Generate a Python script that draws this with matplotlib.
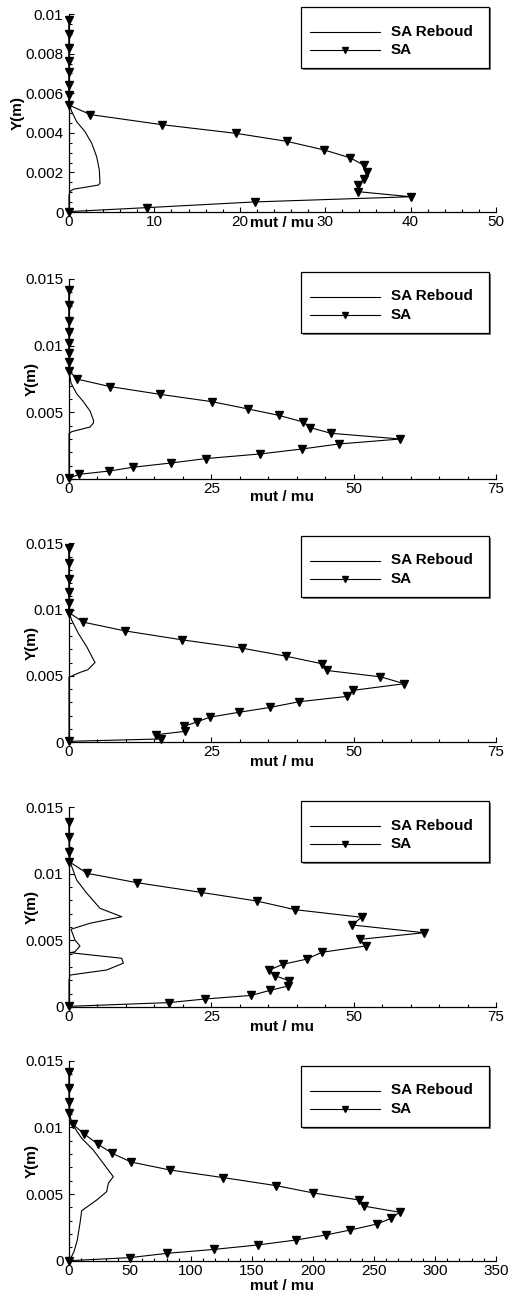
import matplotlib
matplotlib.use("Agg")
import matplotlib.pyplot as plt
from matplotlib.ticker import MultipleLocator, FixedLocator, FixedFormatter
from matplotlib.lines import Line2D
from matplotlib.patches import Rectangle

plt.rcParams['font.family'] = ['Liberation Sans', 'DejaVu Sans']

# ---------------- data ----------------
series_names = ["SA Reboud", "SA"]
x_label = "mut / mu"
y_label = "Y(m)"

# Panel 1
p1_sa_x = [0, 0, 0, 0, 0, 0, 0, 0, 2.5, 10.9, 19.6, 25.5, 29.9, 32.9, 34.5, 34.9,
           34.6, 33.8, 33.8, 40.0, 21.8, 9.1, 0]
p1_sa_y = [0.00968, 0.00899, 0.00828, 0.00764, 0.00705, 0.00643, 0.00589, 0.00540,
           0.00492, 0.00441, 0.00397, 0.00357, 0.00313, 0.00274, 0.00237, 0.00204,
           0.00168, 0.00138, 0.00103, 0.00077, 0.00051, 0.00022, 0.00002]
p1_rb_x = [0, 0, 0.1, 0.32, 0.9, 1.87, 2.66, 3.24, 3.55, 3.63, 3.43, 0.5, 0.12, 0, 0]
p1_rb_y = [0.0097, 0.0056, 0.00535, 0.00507, 0.00456, 0.00406, 0.00347, 0.00279,
           0.00212, 0.00145, 0.00136, 0.00115, 0.00103, 0.00086, 0]

# Panel 2
p2_sa_x = [0, 0, 0, 0, 0, 0, 0, 0, 1.35, 7.2, 16.0, 25.1, 31.5, 36.8, 41.1, 42.4,
           46.0, 58.2, 47.5, 40.9, 33.6, 24.0, 17.9, 11.2, 7.1, 1.76, 0]
p2_sa_y = [0.01418, 0.01305, 0.01188, 0.01105, 0.01018, 0.00948, 0.00880, 0.00813,
           0.0075, 0.00693, 0.00635, 0.0058, 0.00525, 0.00478, 0.00428, 0.00385,
           0.00343, 0.0030, 0.00263, 0.00225, 0.00188, 0.00153, 0.0012, 0.00088,
           0.0006, 0.00035, 0.00005]
p2_rb_x = [0, 0, 0.35, 1.35, 2.52, 3.7, 4.3, 4.3, 3.7, 0.47, 0, 0]
p2_rb_y = [0.0142, 0.0081, 0.0072, 0.0064, 0.0058, 0.0051, 0.0044, 0.0042, 0.0039,
           0.00355, 0.0034, 0]

# Panel 3
p3_sa_x = [0, 0, 0, 0, 0, 0, 2.5, 9.8, 19.9, 30.3, 38.1, 44.5, 45.3, 54.7, 58.9,
           49.9, 48.8, 40.4, 35.3, 29.8, 24.8, 22.4, 20.2, 20.3, 15.3, 16.1, 0]
p3_sa_y = [0.01462, 0.01349, 0.01229, 0.01136, 0.01053, 0.00977, 0.00905, 0.00839,
           0.00771, 0.00709, 0.00648, 0.0059, 0.0054, 0.00492, 0.0044, 0.0039,
           0.00344, 0.00304, 0.00261, 0.00224, 0.00188, 0.00151, 0.00118, 0.0008,
           0.00055, 0.00023, 0.00005]
p3_rb_x = [0, 0, 0.47, 1.64, 3.1, 4.57, 3.3, 1.9, 0.18, 0, 0]
p3_rb_y = [0.0146, 0.0098, 0.0092, 0.0082, 0.0072, 0.006, 0.00545, 0.00525,
           0.00492, 0.0049, 0]

# Panel 4
p4_sa_x = [0, 0, 0, 0, 3.2, 11.9, 23.2, 33.0, 39.7, 51.4, 49.7, 62.4, 51.1, 52.1,
           44.4, 41.8, 37.5, 35.2, 36.2, 38.6, 38.5, 35.3, 32.0, 23.9, 17.5, 0]
p4_sa_y = [0.01387, 0.01275, 0.01167, 0.01092, 0.01004, 0.00934, 0.00861, 0.00796,
           0.00731, 0.00674, 0.00616, 0.00558, 0.00508, 0.00458, 0.00411, 0.0036,
           0.0032, 0.00278, 0.00235, 0.00198, 0.00158, 0.00125, 0.00087, 0.0006,
           0.00033, 0.00005]
p4_rb_x = [0, 0.18, 1.35, 3.1, 5.45, 9.26, 3.69, 0.35, 1.05, 1.93, 1.05, 0.18, 9.26,
           9.54, 6.62, 0.18, 0, 0]
p4_rb_y = [0.0139, 0.01091, 0.00953, 0.00856, 0.00741, 0.00678, 0.00629, 0.00584,
           0.00503, 0.00458, 0.00415, 0.00408, 0.00366, 0.00329, 0.00278, 0.0024,
           0.002, 0]

# Panel 5
p5_sa_x = [0, 0, 0, 0, 3.0, 12.6, 23.5, 35.5, 50.9, 82.9, 126.6, 169.8, 200.4,
           237.9, 241.5, 271.0, 264.1, 252.4, 230.5, 210.6, 185.9, 154.8, 119.2,
           80.1, 50.0, 0]
p5_sa_y = [0.01418, 0.01298, 0.01193, 0.01105, 0.01023, 0.0095, 0.00875, 0.00805,
           0.0074, 0.0068, 0.00623, 0.00563, 0.00508, 0.00455, 0.0041, 0.00363,
           0.00318, 0.00275, 0.0023, 0.00193, 0.00155, 0.00118, 0.00085, 0.00055,
           0.00023, 0.0]
p5_rb_x = [0, 0.8, 4.9, 10.4, 19.9, 28.1, 36.3, 32.2, 30.9, 22.7, 10.4, 9.0, 6.8,
           4.1, 1.4, 0]
p5_rb_y = [0.0142, 0.0103, 0.00993, 0.00918, 0.0083, 0.0073, 0.0063, 0.0058,
           0.00518, 0.00455, 0.00375, 0.0028, 0.00155, 0.00068, 0.00018, 0]

# ticks
p1_xticks = [0, 10, 20, 30, 40, 50]
p1_yticks = [0, 0.002, 0.004, 0.006, 0.008, 0.01]
p1_yticklabels = ["0", "0.002", "0.004", "0.006", "0.008", "0.01"]
mid_xticks = [0, 25, 50, 75]
mid_yticks = [0, 0.005, 0.01, 0.015]
mid_yticklabels = ["0", "0.005", "0.01", "0.015"]
p5_xticks = [0, 50, 100, 150, 200, 250, 300, 350]

# ---------------- layout ----------------
W, H = 509, 1297
fig = plt.figure(figsize=(W / 100, H / 100), dpi=100)


def fx(px):
    return px / W


def fy(py):
    return 1 - py / H


panels = [
    dict(rect=(69, 14, 496, 212), sa=(p1_sa_x, p1_sa_y), rb=(p1_rb_x, p1_rb_y),
         xlim=(0, 50), ylim=(0, 0.01), xt=p1_xticks, xminor=2,
         yt=p1_yticks, ytl=p1_yticklabels, yminor=0.0005,
         xl_off=11, yl_x=18, leg_top=7),
    dict(rect=(69, 279, 496, 479), sa=(p2_sa_x, p2_sa_y), rb=(p2_rb_x, p2_rb_y),
         xlim=(0, 75), ylim=(0, 0.015), xt=mid_xticks, xminor=5,
         yt=mid_yticks, ytl=mid_yticklabels, yminor=0.001,
         xl_off=18, yl_x=32, leg_top=272),
    dict(rect=(69, 543.3, 496, 742), sa=(p3_sa_x, p3_sa_y), rb=(p3_rb_x, p3_rb_y),
         xlim=(0, 75), ylim=(0, 0.015), xt=mid_xticks, xminor=5,
         yt=mid_yticks, ytl=mid_yticklabels, yminor=0.001,
         xl_off=20, yl_x=32, leg_top=536),
    dict(rect=(69, 807.3, 496, 1007), sa=(p4_sa_x, p4_sa_y), rb=(p4_rb_x, p4_rb_y),
         xlim=(0, 75), ylim=(0, 0.015), xt=mid_xticks, xminor=5,
         yt=mid_yticks, ytl=mid_yticklabels, yminor=0.001,
         xl_off=20, yl_x=32, leg_top=801),
    dict(rect=(69, 1060.7, 496, 1260.7), sa=(p5_sa_x, p5_sa_y), rb=(p5_rb_x, p5_rb_y),
         xlim=(0, 350), ylim=(0, 0.015), xt=p5_xticks, xminor=10,
         yt=mid_yticks, ytl=mid_yticklabels, yminor=0.001,
         xl_off=25, yl_x=32, leg_top=1066),
]

MS = 5.4
for p in panels:
    l, t, r, b = p["rect"]
    ax = fig.add_axes([fx(l), fy(b), (r - l) / W, (b - t) / H])
    ax.plot(p["rb"][0], p["rb"][1], color="black", lw=0.8, clip_on=False, zorder=3)
    ax.plot(p["sa"][0], p["sa"][1], color="black", lw=0.8, marker="v", ms=MS,
            mfc="black", mec="black", clip_on=False, zorder=4)
    ax.set_xlim(*p["xlim"])
    ax.set_ylim(*p["ylim"])
    for s in ("top", "right"):
        ax.spines[s].set_visible(False)
    for s in ("left", "bottom"):
        ax.spines[s].set_linewidth(0.9)
    ax.xaxis.set_major_locator(FixedLocator(p["xt"]))
    ax.xaxis.set_major_formatter(FixedFormatter([str(v) for v in p["xt"]]))
    ax.xaxis.set_minor_locator(MultipleLocator(p["xminor"]))
    ax.yaxis.set_major_locator(FixedLocator(p["yt"]))
    ax.yaxis.set_major_formatter(FixedFormatter(p["ytl"]))
    ax.yaxis.set_minor_locator(MultipleLocator(p["yminor"]))
    ax.tick_params(which="both", direction="in", top=False, right=False,
                   labelsize=11, width=0.8, colors="black")
    ax.tick_params(which="major", length=3.8)
    ax.tick_params(which="minor", length=2.0)
    ax.tick_params(axis="x", which="major", pad=2.5)
    ax.tick_params(axis="y", which="major", pad=4)
    h = b - t
    ax.set_xlabel(x_label, fontsize=11, fontweight="bold", va="center", ha="center")
    ax.xaxis.set_label_coords(0.5, -p["xl_off"] / h)
    ax.set_ylabel(y_label, fontsize=11, fontweight="bold", va="center", ha="center")
    ax.yaxis.set_label_coords((p["yl_x"] - l) / (r - l), 0.5)

    # legend box (drawn in figure pixel space)
    lt = p["leg_top"]
    bx0, bx1, by0, by1 = 301, 489, lt, lt + 61
    fig.patches.append(Rectangle((fx(bx0 + 1.5), fy(by1 + 1.5)), (bx1 - bx0) / W,
                                 (by1 - by0) / H, transform=fig.transFigure,
                                 facecolor="#777777", edgecolor="none", zorder=5))
    fig.patches.append(Rectangle((fx(bx0), fy(by1)), (bx1 - bx0) / W,
                                 (by1 - by0) / H, transform=fig.transFigure,
                                 facecolor="white", edgecolor="black", lw=0.9,
                                 zorder=6))
    y_rb = lt + 24.5
    y_sa = lt + 43.3
    fig.lines.append(Line2D([fx(310), fx(380)], [fy(y_rb), fy(y_rb)],
                            transform=fig.transFigure, color="black", lw=0.8,
                            zorder=7))
    fig.lines.append(Line2D([fx(310), fx(380)], [fy(y_sa), fy(y_sa)],
                            transform=fig.transFigure, color="black", lw=0.8,
                            zorder=7))
    fig.lines.append(Line2D([fx(345)], [fy(y_sa)], transform=fig.transFigure,
                            marker="v", ms=MS * 0.85, color="black", lw=0, zorder=7))
    fig.text(fx(391), fy(y_rb), series_names[0], fontsize=11, fontweight="bold",
             va="center", ha="left", zorder=8)
    fig.text(fx(391), fy(y_sa), series_names[1], fontsize=11, fontweight="bold",
             va="center", ha="left", zorder=8)

fig.savefig("out.png", dpi=100)
